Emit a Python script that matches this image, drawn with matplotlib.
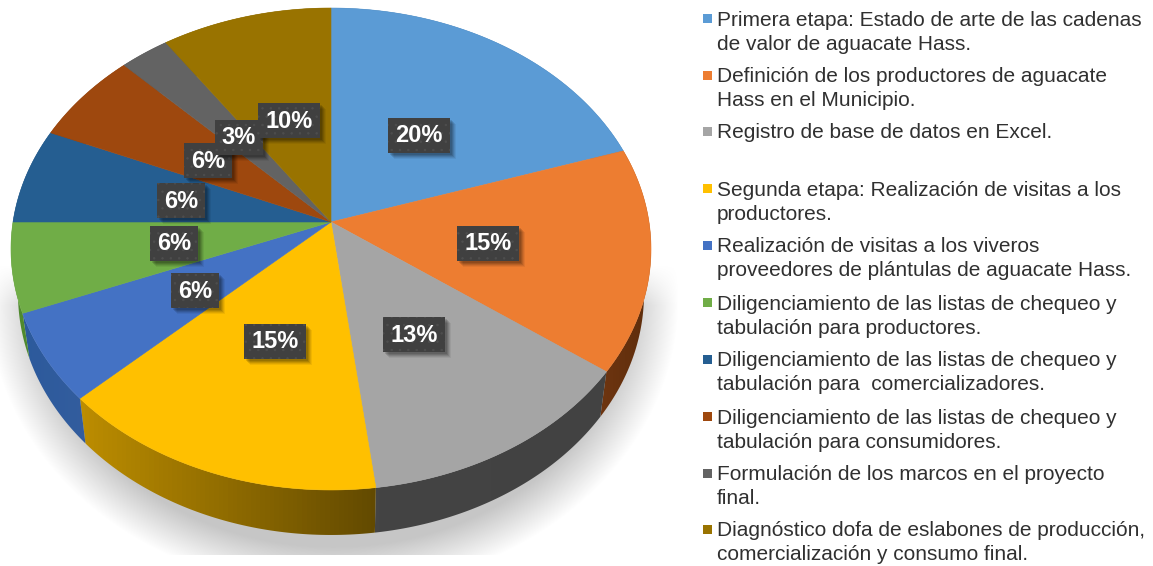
import numpy as np
import matplotlib
matplotlib.use('Agg')
from matplotlib import pyplot as plt
from matplotlib.colors import to_rgb
from matplotlib.patches import Polygon, Rectangle

plt.rcParams['font.family'] = ['Liberation Sans', 'DejaVu Sans']
plt.rcParams['hatch.linewidth'] = 0.5

# slice shares (labels round them)
values = [20, 15, 13, 15, 6, 6, 6.4, 6.2, 2.8, 9.6]
top_colors = ['#5B9BD5', '#ED7D31', '#A5A5A5', '#FFC000', '#4472C4',
              '#70AD47', '#255E91', '#9E480E', '#636363', '#997300']
wall_left = ['#2F5F8A', '#6E3510', '#444444', '#BC8D00', '#2C5A9C',
             '#4F8A2E', '#1A4468', '#6E320A', '#444444', '#6B5000']
wall_right = ['#2F5F8A', '#5E2D0C', '#424242', '#634A00', '#335D9E',
              '#4F8A2E', '#1A4468', '#6E320A', '#444444', '#6B5000']
legend_items = [
    ['Primera etapa: Estado de arte de las cadenas', 'de valor de aguacate Hass.'],
    ['Definición de los productores de aguacate', 'Hass en el Municipio.'],
    ['Registro de base de datos en Excel.'],
    ['Segunda etapa: Realización de visitas a los', 'productores.'],
    ['Realización de visitas a los viveros', 'proveedores de plántulas de aguacate Hass.'],
    ['Diligenciamiento de las listas de chequeo y', 'tabulación para productores.'],
    ['Diligenciamiento de las listas de chequeo y', 'tabulación para  comercializadores.'],
    ['Diligenciamiento de las listas de chequeo y', 'tabulación para consumidores.'],
    ['Formulación de los marcos en el proyecto', 'final.'],
    ['Diagnóstico dofa de eslabones de producción,', 'comercialización y consumo final.'],
]

# layout, in pixels of the picture
legend_y = [19, 76, 132, 189, 246, 303, 360, 417, 474, 530]
label_xy = [(419, 135), (488, 243), (414, 334), (275, 341), (195, 290),
            (174, 243), (181, 200), (208, 160), (239, 137), (289, 120)]


def rim(t, drop=0.0, k=1.0):
    # tilted circle with perspective, t in degrees clockwise from the top
    t = np.radians(t)
    u, v = np.sin(t), -np.cos(t)
    den = 1 - 0.112 * v
    x = 331 + 318 * k * u / den
    y = (213.1 * v + 222) / den + drop
    return np.column_stack([x, y])


fig = plt.figure(figsize=(11.53, 5.66), dpi=100)
ax = fig.add_axes([0, 0, 1, 1])

# soft shadow under the pie
yy, xx = np.mgrid[0:555, 0:700]
d = np.sqrt(((xx - 333) / 345.0) ** 2 + ((yy - 300) / 290.0) ** 2)
alpha = np.clip((1.0 - d) / 0.15, 0, 1) * np.clip((yy - 265) / 40.0, 0, 1)
shadow = np.zeros(yy.shape + (4,))
shadow[..., :3] = 0.78
shadow[..., 3] = alpha
ax.imshow(shadow, extent=(0, 700, 555, 0), aspect='auto', zorder=1)

edges = np.concatenate([[0], np.cumsum(values)]) / np.sum(values) * 360

# side wall, with a left to right shade
for i in range(len(values)):
    t = np.linspace(edges[i], edges[i + 1], 80)
    poly = np.vstack([rim(t), rim(t, 45, 0.978)[::-1]])
    x0, x1 = poly[:, 0].min(), poly[:, 0].max()
    y0, y1 = poly[:, 1].min(), poly[:, 1].max()
    f = np.linspace(0, 1, 64)[:, None]
    grad = (1 - f) * np.array(to_rgb(wall_left[i])) + f * np.array(to_rgb(wall_right[i]))
    im = ax.imshow(grad[None, :, :], extent=(x0, x1, y1, y0), aspect='auto', zorder=2)
    patch = Polygon(poly, closed=True, fc='none', ec='none', transform=ax.transData)
    ax.add_patch(patch)
    im.set_clip_path(patch)

# top surface
for i in range(len(values)):
    t = np.linspace(edges[i], edges[i + 1], 80)
    poly = np.vstack([[[331, 222]], rim(t)])
    ax.add_patch(Polygon(poly, closed=True, fc=top_colors[i], ec=top_colors[i],
                         lw=0.4, zorder=3))

# data labels
for i, (lx, ly) in enumerate(label_xy):
    txt = f'{values[i]:.0f}%'
    w = 62 if len(txt) == 3 else 48
    z = 4 + i * 0.1
    for off, a in [(6, 0.06), (5, 0.08), (4, 0.10), (3, 0.12), (2, 0.12)]:
        ax.add_patch(Rectangle((lx - w / 2 + off, ly - 17 + off), w, 35, fc='black',
                               ec='none', alpha=a, zorder=z))
    ax.add_patch(Rectangle((lx - w / 2, ly - 17), w, 35, fc='#404040', ec='#4E4E4E',
                           lw=0, hatch='..', zorder=z + 0.01))
    ax.text(lx, ly + 1, txt, color='white', fontsize=17, fontweight='bold',
            ha='center', va='center', zorder=z + 0.02)

# legend
for i, lines in enumerate(legend_items):
    ax.add_patch(Rectangle((703, legend_y[i] - 5), 9, 9, fc=top_colors[i], ec='none', zorder=5))
    for j, line in enumerate(lines):
        ax.text(717, legend_y[i] + j * 24 + 1, line, color='#303030', fontsize=15,
                ha='left', va='center', zorder=5)

ax.set_xlim(0, 1153)
ax.set_ylim(566, 0)
ax.axis('off')
fig.savefig('out.png', dpi=100)
